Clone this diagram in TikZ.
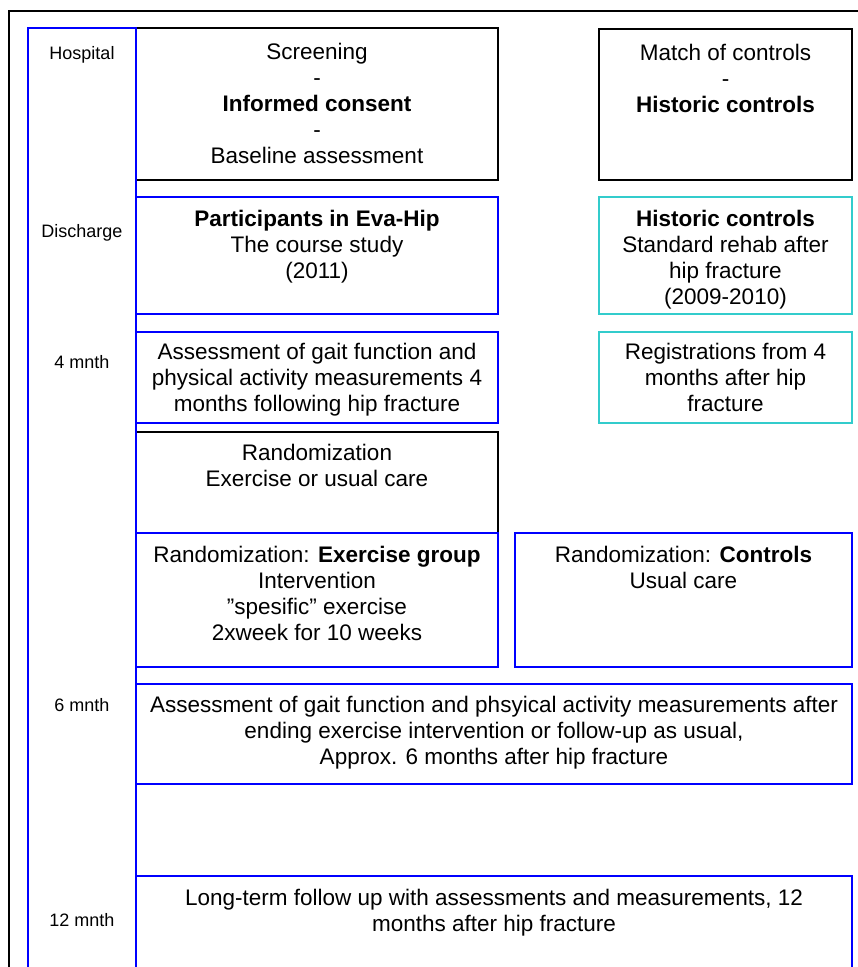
\documentclass[tikz,border=0pt]{standalone}
\usepackage{fontspec}
\setmainfont{Liberation Sans}
\usepackage{tikz}
\usetikzlibrary{positioning}
\usepackage{xcolor}
\definecolor{evablue}{RGB}{0,0,255}
\definecolor{evacyan}{RGB}{51,204,204}
\tikzstyle{stagebox} = [rectangle, draw=black, line width=1.5pt, inner sep=0pt]
\tikzstyle{trialbox} = [stagebox, draw=evablue]
\tikzstyle{histbox} = [stagebox, draw=evacyan]
\tikzstyle{boxtext} = [align=center, inner sep=0pt, font=\fontsize{22.5}{26}\selectfont]
\tikzstyle{timelabel} = [inner sep=0pt, font=\fontsize{18}{21}\selectfont]

\begin{document}
\begin{tikzpicture}[x=1pt,y=-1pt]
\useasboundingbox (0,0) rectangle (858,967);
% outer frame
\draw[line width=1.3pt] (9,967) -- (9,11) -- (870,11);

% Hospital
\node[stagebox, minimum width=362pt, minimum height=152pt] (screen) at (317,104) {};
\node[stagebox, minimum width=253pt, minimum height=151pt] (match) at (725.5,104.5) {};
\node[boxtext, below=16pt of screen.north] (screenT) {Screening\\-\\\textbf{Informed consent}\\-\\Baseline assessment};
\node[boxtext, below=16pt of match.north] (matchT) {Match of controls\\-\\\textbf{Historic controls}};

% Discharge
\node[trialbox, minimum width=362pt, minimum height=117pt] (part) at (317,255.5) {};
\node[histbox, minimum width=253pt, minimum height=117pt] (hist) at (725.5,255.5) {};
\node[boxtext, below=14pt of part.north] (partT) {\textbf{Participants in Eva-Hip}\\The course study\\(2011)};
\node[boxtext, below=14pt of hist.north] (histT) {\textbf{Historic controls}\\Standard rehab after\\hip fracture\\(2009-2010)};

% 4 months
\node[trialbox, minimum width=362pt, minimum height=91pt] (gaitA) at (317,377.5) {};
\node[histbox, minimum width=253pt, minimum height=91pt] (reg) at (725.5,377.5) {};
\node[boxtext, below=12pt of gaitA.north] (gaitAT) {Assessment of gait function and\\physical activity measurements 4\\months following hip fracture};
\node[boxtext, below=12pt of reg.north] (regT) {Registrations from 4\\months after hip\\fracture};

% Randomization
\node[stagebox, minimum width=362pt, minimum height=101pt] (rand) at (317,482.5) {};
\node[boxtext, below=13pt of rand.north] (randT) {Randomization\\Exercise or usual care};
\node[trialbox, minimum width=362pt, minimum height=134pt] (exer) at (317,600) {};
\node[trialbox, minimum width=337pt, minimum height=134pt] (ctrl) at (683.5,600) {};
\node[boxtext, below=14pt of exer.north] (exerT) {Randomization: \textbf{Exercise group}\\Intervention\\”spesific” exercise\\2xweek for 10 weeks};
\node[boxtext, below=14pt of ctrl.north] (ctrlT) {Randomization: \textbf{Controls}\\Usual care};

% 6 months
\node[trialbox, minimum width=716pt, minimum height=100pt] (gaitB) at (494,734) {};
\node[boxtext, below=13pt of gaitB.north] (gaitBT) {Assessment of gait function and phsyical activity measurements after\\ending exercise intervention or follow-up as usual,\\Approx. 6 months after hip fracture};

% 12 months
\draw[evablue, line width=1.5pt] (136,975) -- (136,876) -- (852,876) -- (852,975);
\coordinate (longtop) at (494,876);
\node[boxtext, below=13pt of longtop] (longT) {Long-term follow up with assessments and measurements, 12\\months after hip fracture};

% time column
\draw[evablue, line width=1.5pt] (28,975) -- (28,28) -- (136,28) -- (136,975);
\node[timelabel] (hosp) at (82,55) {Hospital};
\node[timelabel] (disch) at (82,233) {Discharge};
\node[timelabel] (m4) at (82,362) {4 mnth};
\node[timelabel] (m6) at (82,705) {6 mnth};
\node[timelabel] (m12) at (82,920) {12 mnth};
\end{tikzpicture}
\end{document}
